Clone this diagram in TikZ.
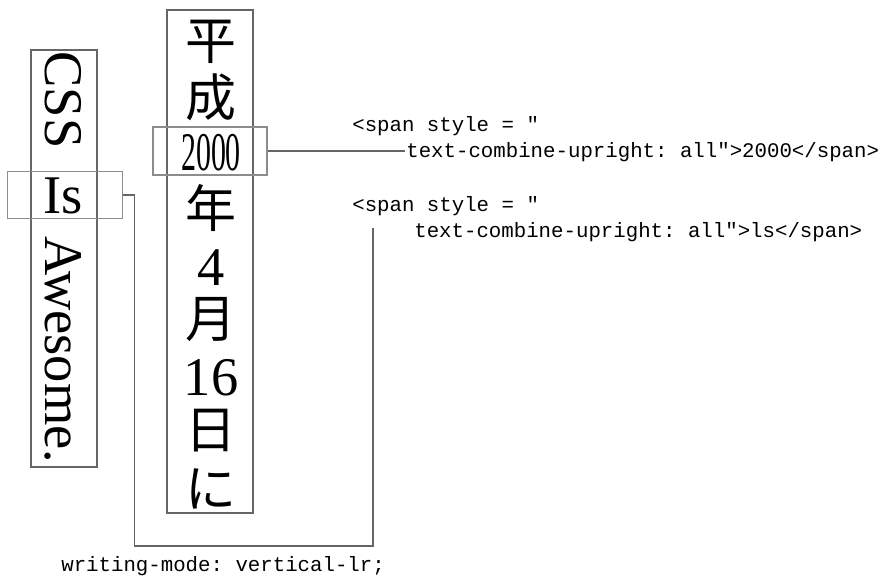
\documentclass[tikz,border=0pt]{standalone}
\usepackage{fontspec}
\setmainfont{Liberation Serif}
\setmonofont{Liberation Mono}
\newfontfamily\jpfont{Noto Sans CJK JP}
\usepackage{graphicx}
\usepackage{tikz}
\usetikzlibrary{positioning}

\begin{document}
\begin{tikzpicture}[x=0.02cm, y=-0.02cm,
    frame/.style={draw=black!60, line width=0.8pt},
    combo/.style={draw=black!45, line width=0.8pt},
    conn/.style={draw=black!60, line width=0.8pt},
    big/.style={inner sep=0pt, font=\fontsize{31}{31}\selectfont},
    jp/.style={inner sep=0pt, font=\fontsize{29}{29}\selectfont\jpfont},
    code/.style={inner sep=0pt, anchor=base west, font=\fontsize{11.8}{12}\ttfamily}]
    \useasboundingbox (0, 0) rectangle (889, 576);

    \draw[frame] (31, 50) rectangle (97, 467);
    \draw[frame] (167, 10) rectangle (253, 513);

    \node[big, rotate=-90] (css) at (63, 100) {CSS};
    \node[big, anchor=base] (is) at (63, 213) {Is};
    \node[big, rotate=-90] (awesome) at (63, 350) {Awesome.};

    \node[jp] (hei) at (211, 42) {平};
    \node[jp] (sei) at (211, 97) {成};
    \node[big, anchor=base] (year) at (211, 170) {\scalebox{0.55}[1]{2000}};
    \node[jp] (nen) at (211, 208) {年};
    \node[big, anchor=base] (four) at (211, 285) {4};
    \node[jp] (tsuki) at (211, 320) {月};
    \node[big, anchor=base] (sixteen) at (211, 395) {16};
    \node[jp] (hi) at (211, 431) {日};
    \node[jp] (ni) at (211, 489) {に};

    \node[combo, minimum width=115*0.02cm, minimum height=47*0.02cm, inner sep=0pt] (isbox) at (65, 195) {};
    \node[combo, minimum width=114*0.02cm, minimum height=48*0.02cm, inner sep=0pt] (yearbox) at (210, 151) {};

    \node[code] (spanA) at (352, 131) {<span style = "};
    \node[code] (combA) at (406, 157) {text-combine-upright: all">2000</span>};
    \node[code] (spanB) at (352, 211) {<span style = "};
    \node[code] (combB) at (414, 237) {text-combine-upright: all">ls</span>};
    \node[code] (mode) at (61, 571) {writing-mode: vertical-lr;};

    \coordinate (yearend) at (405, 151);
    \coordinate (isend) at (373, 228);
    \coordinate (iscorner) at (373, 546);

    \draw[conn] (yearbox.east) -- (yearend);
    \draw[conn] (isbox.east) -- ++(11, 0) |- (iscorner) -- (isend);
\end{tikzpicture}
\end{document}
